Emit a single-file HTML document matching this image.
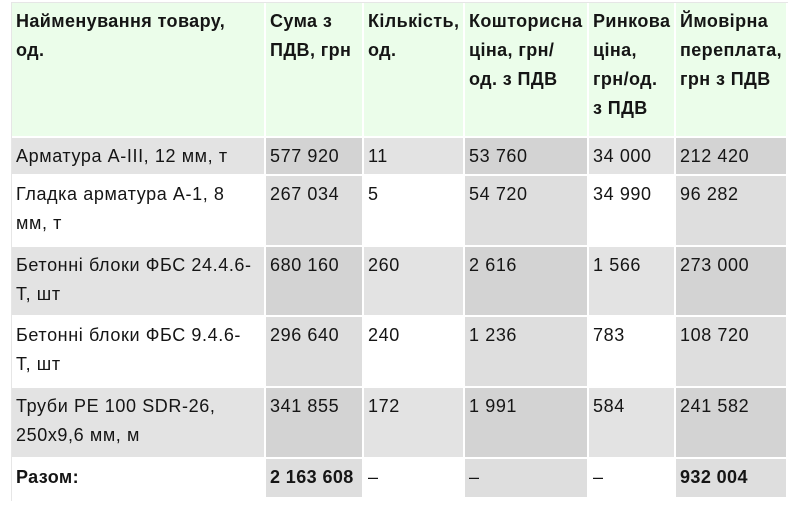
<!DOCTYPE html>
<html><head><meta charset="utf-8"><style>
body{margin:0;width:789px;height:507px;background:#fff;position:relative;overflow:hidden;font-family:"Liberation Sans",sans-serif;color:#151515}
.frame{position:absolute;left:11px;top:2px;width:776px;height:498px;border-left:1px solid #e6e6e6;border-top:1px solid #e6e6e6}
.c{position:absolute;box-sizing:border-box;padding:4px 3px 4px 4px;font-size:18px;letter-spacing:0.6px;line-height:29px}
.h{font-weight:bold;background:#ebfdea;letter-spacing:0.4px}
.b{font-weight:bold;letter-spacing:0.4px}
</style></head><body>
<div class="frame"></div>
<div id="t"></div>
<script>
var L=[12,266,364,465,589,676],R=[264,362,463,587,674,786];
var T=[3,138,176,247,317,388,459],B=[136,174,245,315,386,457,497];
var d=[
["Найменування товару,<br>од.","Сума з ПДВ, грн","Кількість, од.","Кошторисна ціна, грн/ од. з ПДВ","Ринкова ціна, грн/од. з ПДВ","Ймовірна переплата, грн з ПДВ"],
["Арматура А-ІІІ, 12 мм, т","577 920","11","53 760","34 000","212 420"],
["Гладка арматура А-1, 8 мм, т","267 034","5","54 720","34 990","96 282"],
["Бетонні блоки ФБС 24.4.6-Т, шт","680 160","260","2 616","1 566","273 000"],
["Бетонні блоки ФБС 9.4.6-<br>Т, шт","296 640","240","1 236","783","108 720"],
["Труби PE 100 SDR-26, 250х9,6 мм, м","341 855","172","1 991","584","241 582"],
["Разом:","2 163 608","–","–","–","932 004"]];
var h="";
for(var r=0;r<7;r++)for(var c=0;c<6;c++){
var cls="c",bg;
if(r==0){cls+=" h";bg="#ebfdea";}
else{var odd=r%2==1,ev=c%2==1;bg=odd?(ev?"#d3d3d3":"#e3e3e3"):(ev?"#dedede":"#fff");}
if(r==6&&(c==0||c==1||c==5))cls+=" b";
h+='<div class="'+cls+'" style="left:'+L[c]+'px;top:'+T[r]+'px;width:'+(R[c]-L[c])+'px;height:'+(B[r]-T[r])+'px;background:'+bg+'">'+d[r][c]+'</div>';}
document.getElementById("t").innerHTML=h;
</script>
</body></html>
